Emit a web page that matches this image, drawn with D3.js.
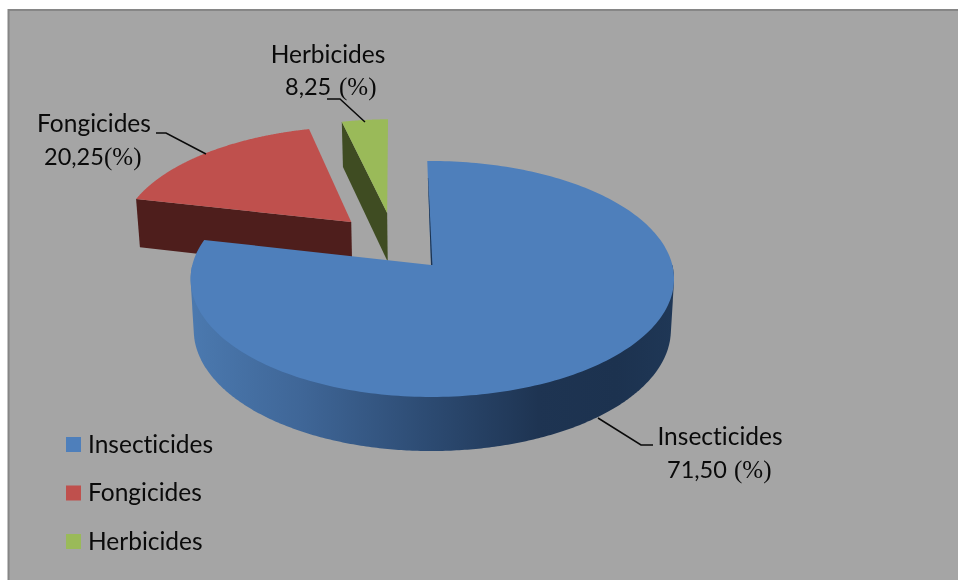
<!DOCTYPE html>
<html><head><meta charset="utf-8">
<style>html,body{margin:0;padding:0;background:#fff}svg{display:block;filter:blur(0.4px)}text{font-variant-ligatures:none}</style>
<script src="https://cdn.jsdelivr.net/npm/d3@7/dist/d3.min.js"></script>
</head><body><svg id="c" width="958" height="580"></svg>
<script>
const categories = ["Insecticides","Fongicides","Herbicides"];
const labelValues = ["71,50","20,25","8,25"];
// angular shares as actually drawn in the picture (%)
const drawnShares = [78.83,17.53,3.64];
const topColors = ["#4e7fbb","#bf504d","#9aba59"];
const wallColors = ["#1c3350","#4e1e1c","#3f4c22"];
const explodeU = [0,-0.3495,-0.194];
const explodeV = [0,-0.3867,-0.4722];

const svg=d3.select("#c");
const W=958,H=580,FONT="Lato, Carlito, sans-serif",SERIF="'Liberation Serif', serif";
const apex={x:431,y:265}, rx=239.4, ry=116.3, k=0.1186;
const color=d3.scaleOrdinal(categories,topColors), wall=d3.scaleOrdinal(categories,wallColors);
const rot=-1*Math.PI/180;
const pie=d3.pie().sort(null).startAngle(rot).endAngle(2*Math.PI+rot);
const arcs=pie(drawnShares);

function topPt(u,v){const s=1/(1-k*v);return [apex.x+rx*u*s*(u>0?1.008:0.997), apex.y+ry*v*s];}
function botPt(u,v){const p=topPt(u,v);return [apex.x+(p[0]-apex.x)*0.987, p[1]+50.5+3.6*v];}
const polar=(i,a,r)=>[explodeU[i]+r*Math.sin(a), explodeV[i]-r*Math.cos(a)];
const line=d3.line();

const defs=svg.append("defs");
const grad=defs.append("linearGradient").attr("id","blueWall").attr("gradientUnits","userSpaceOnUse")
 .attr("x1",191).attr("x2",674).attr("y1",0).attr("y2",0);
[[0,"#4b79af"],[.23,"#3f6697"],[.5,"#2c4a71"],[.72,"#1e3452"],[.88,"#1c324f"],[1,"#1f3756"]]
 .forEach(s=>grad.append("stop").attr("offset",s[0]).attr("stop-color",s[1]));

svg.append("rect").attr("x",8.5).attr("y",10).attr("width",W).attr("height",H).attr("fill","#a5a5a5")
 .attr("stroke","#868686").attr("stroke-width",2);

function rim(i,n){const a=arcs[i];return d3.range(n+1).map(j=>polar(i,a.startAngle+(a.endAngle-a.startAngle)*j/n,1));}
function topPath(i){const c=polar(i,0,0);return line([topPt(...c),...rim(i,240).map(p=>topPt(...p))])+"Z";}
function rimWall(i){
 const front=rim(i,480).filter(p=>p[1]>=0);
 const hull=d3.polygonHull([...front.map(p=>topPt(...p)),...front.map(p=>botPt(...p))]);
 return line(hull)+"Z";
}
function radialWall(i,ang){const c=polar(i,0,0),e=polar(i,ang,1);return line([topPt(...c),topPt(...e),botPt(...e),botPt(...c)])+"Z";}

// Fongicides
svg.append("path").attr("d",radialWall(1,arcs[1].startAngle)).attr("fill",wall(categories[1]));
svg.append("path").attr("d",topPath(1)).attr("fill",color(categories[1]));
// Herbicides
svg.append("path").attr("d",radialWall(2,arcs[2].startAngle)).attr("fill",wall(categories[2]));
svg.append("path").attr("d",topPath(2)).attr("fill",color(categories[2]));
// Insecticides
svg.append("path").attr("d",rimWall(0)).attr("fill","url(#blueWall)");
svg.append("path").attr("d",topPath(0)).attr("fill",color(categories[0]));
const e0=topPt(...polar(0,arcs[0].startAngle,0.82)), c0=topPt(0,0);
svg.append("path").attr("d",line([e0,c0,[c0[0]+1.4,c0[1]],[e0[0]+.3,e0[1]]])+"Z").attr("fill",wall(categories[0]));

// leader lines
const leaders=[[[598,418],[641,445],[653,445]],[[156,133],[166,133],[206,154]],[[327,99],[340,99],[365,122]]];
svg.selectAll("path.leader").data(leaders).join("path").attr("class","leader").attr("d",line)
 .attr("fill","none").attr("stroke","#0a0a0a").attr("stroke-width",1.5);

// data labels: [name x, name baseline, value x, value baseline, value-to-percent x]
const labelPos=[[720,445,667,478,734],[94,132,44,165,104],[328,63,285,95,339]];
categories.forEach((c,i)=>{
 const p=labelPos[i];
 svg.append("text").attr("x",p[0]).attr("y",p[1]).attr("text-anchor","middle").attr("font-family",FONT).attr("font-size",24.5).attr("fill","#0a0a0a").text(c);
 svg.append("text").attr("x",p[2]).attr("y",p[3]).attr("font-family",FONT).attr("font-size",23.5).attr("fill","#0a0a0a").text(labelValues[i]);
 svg.append("text").attr("x",p[4]).attr("y",p[3]).attr("font-family",SERIF).attr("font-size",25).attr("fill","#0a0a0a").text("(%)");
});

// legend
const row=d3.scalePoint(categories,[444.5,541.5]);
const lg=svg.selectAll("g.lg").data(categories).join("g").attr("class","lg");
lg.append("rect").attr("x",66).attr("y",d=>row(d)-7.5).attr("width",15).attr("height",15).attr("fill",d=>color(d));
lg.append("text").attr("x",88).attr("y",d=>row(d)+8).attr("font-family",FONT).attr("font-size",24.5).attr("fill","#0a0a0a").text(d=>d);
</script></body></html>
